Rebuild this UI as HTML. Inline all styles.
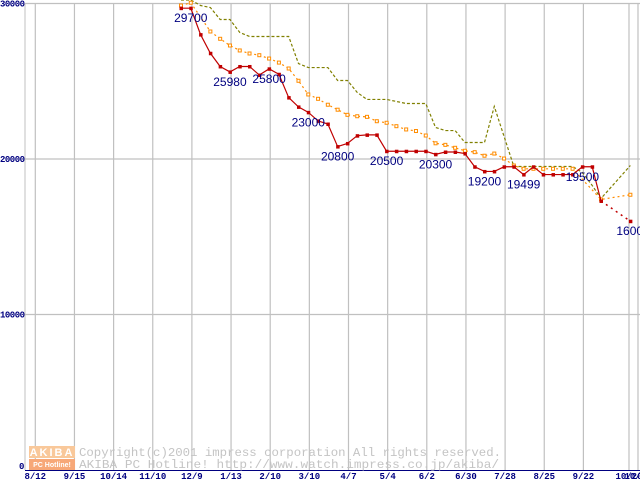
<!DOCTYPE html>
<html><head><meta charset="utf-8"><style>
html,body{margin:0;padding:0;background:#fff;}
svg{display:block;}
</style></head><body>
<svg id="chart" width="640" height="480" viewBox="0 0 640 480" xmlns="http://www.w3.org/2000/svg">
<g id="grid"></g>
<g id="watermark">
  <rect x="29" y="446" width="46" height="12" fill="#f9c89a"/>
  <rect x="29" y="459" width="46" height="11" fill="#f7a878"/>
  <text x="52" y="456" fill="#fff" font-family="Liberation Sans, sans-serif" font-size="11" font-weight="bold" text-anchor="middle" letter-spacing="2">AKIBA</text>
  <text x="52" y="467" fill="#fff" font-family="Liberation Sans, sans-serif" font-size="7" font-weight="bold" text-anchor="middle">PC Hotline!</text>
  <text x="79" y="456" fill="#c4c4c4" font-family="Liberation Mono, monospace" font-size="12" textLength="422" lengthAdjust="spacingAndGlyphs">Copyright(c)2001 impress corporation All rights reserved.</text>
  <text x="79" y="468" fill="#c4c4c4" font-family="Liberation Mono, monospace" font-size="12" textLength="420" lengthAdjust="spacingAndGlyphs">AKIBA PC Hotline!  http://www.watch.impress.co.jp/akiba/</text>
</g>
<g id="series"></g>
<g id="labels"></g>
</svg>
<script>
const xTickLabels = ["8/12","9/15","10/14","11/10","12/9","1/13","2/10","3/10","4/7","5/4","6/2","6/30","7/28","8/25","9/22","10/20","10/27"];
const yTickValues = [0,10000,20000,30000];
const weeks = [0,1,2,3,4,5,6,7,8,9,10,11,12,13,14,15,16,17,18,19,20,21,22,23,24,25,26,27,28,29,30,31,32,33,34,35,36,37,38,39,40,41,42,42.9,45.9];
const redPrices = [29700,29700,28000,26800,25950,25600,25950,25950,25400,25800,25450,23950,23350,23000,22450,22250,20800,21000,21500,21550,21550,20500,20500,20500,20500,20500,20300,20450,20450,20350,19500,19200,19200,19500,19500,19000,19500,19000,19000,19000,19000,19500,19500,17300,16000];
const orangePrices = [29870,30050,null,28200,27730,27300,26980,26785,26675,26460,26200,25820,25030,24150,23870,23490,23170,22840,22750,22710,22430,22330,22110,21900,21800,21510,21010,20910,20720,20530,20440,20210,20350,20030,19580,19370,19370,19370,19370,19370,19370,null,null,17400,17700];
const olivePrices = [30260,30260,29870,29740,28970,28970,28140,27880,27880,27880,27880,27880,26140,25880,25880,25880,25050,25050,24280,23830,23830,23830,23700,23570,23570,23570,22030,21830,21830,21060,21060,21060,23380,21450,19520,19520,19520,19520,19520,19520,19520,19130,18300,17460,19580];
const labelIndex = [1,5,9,13,16,21,26,31,35,41,44];
const labelText = ["29700","25980","25800","23000","20800","20500","20300","19200","19499","19500","16000"];

const NS = "http://www.w3.org/2000/svg";
function xOfWeek(w){ return 181 + w*9.79; }
function xOfTick(i){ return 35.3 + i*39.15; }
function yOf(v){ return 470 - v*0.01555; }
function mk(tag, attrs, parent){
  const el = document.createElementNS(NS, tag);
  for (const k in attrs) el.setAttribute(k, attrs[k]);
  parent.appendChild(el);
  return el;
}
const grid = document.getElementById('grid');
const series = document.getElementById('series');
const labels = document.getElementById('labels');

let ax = mk('line', {x1:25,y1:4,x2:25,y2:470,stroke:'#c0c0c0','stroke-width':1}, grid);


yTickValues.forEach(v=>{
  if (v>0){
    const g = mk('line', {x1:25,y1:yOf(v),x2:640,y2:yOf(v),stroke:'#c0c0c0','stroke-width':1.2}, grid);
    
    
  }
  const t = mk('text', {x: v===0?19:0, y: v===0? yOf(v)-1 : yOf(v)+3, fill:'#000080','font-family':'Liberation Mono, monospace','font-size': 9,'font-weight':'bold'}, grid);
  t.textContent = String(v);
  if (v!==0) t.setAttribute('textLength','25');
  
  
});
xTickLabels.forEach((s,i)=>{
  const x = i<15 ? xOfTick(i) : (i===15?629:638);
  const g = mk('line', {x1:x,y1:4,x2:x,y2:470,stroke:'#c0c0c0','stroke-width':1.2}, grid);
  
  
  const t = mk('text', {x:x,y:479,fill:'#000080','font-family':'Liberation Mono, monospace','font-size':9,'font-weight':'bold','text-anchor':'middle'}, grid);
  t.textContent = s;
  
  
});
let bx = mk('line', {x1:25,y1:470.5,x2:640,y2:470.5,stroke:'#000080','stroke-width':1}, grid);



function pts(arr){
  const p=[];
  arr.forEach((v,i)=>{ if(v!==null) p.push([xOfWeek(weeks[i]), Math.max(0,yOf(v))]); });
  return p;
}
const op = pts(olivePrices);
let ol = mk('polyline', {points: op.map(p=>p.join(',')).join(' '), fill:'none', stroke:'#808000','stroke-width':1.2,'stroke-dasharray':'3,2'}, series);


const orp = pts(orangePrices);
let orl = mk('polyline', {points: orp.map(p=>p.join(',')).join(' '), fill:'none', stroke:'#ff8c00','stroke-width':1.2,'stroke-dasharray':'2,3'}, series);


orp.forEach(p=>{
  const r = mk('rect', {x:p[0]-1.5,y:p[1]-1.5,width:3,height:3,fill:'#fff',stroke:'#ff8c00','stroke-width':1}, series);
  
  
});
const rp = pts(redPrices);
const solid = rp.slice(0, 44);
let rl = mk('polyline', {points: solid.map(p=>p.join(',')).join(' '), fill:'none', stroke:'#c00000','stroke-width':1.2}, series);


let rd = mk('line', {x1:rp[43][0],y1:rp[43][1],x2:rp[44][0],y2:rp[44][1],stroke:'#c00000','stroke-width':1.5,'stroke-dasharray':'2,4'}, series);


rp.forEach(p=>{
  const r = mk('rect', {x:p[0]-1.5,y:p[1]-1.5,width:3.5,height:3.5,fill:'#c00000'}, series);
  
  
});
labelIndex.forEach((idx,k)=>{
  const x = xOfWeek(weeks[idx]);
  const y = yOf(redPrices[idx]) + 14;
  const t = mk('text', {x:x,y:y,fill:'#000080','font-family':'Liberation Sans, sans-serif','font-size':12,'text-anchor': k===labelIndex.length-1?'start':'middle'}, labels);
  if (k===labelIndex.length-1) t.setAttribute('x', x-14);
  t.textContent = labelText[k];
  
  
});
</script>
</body></html>
